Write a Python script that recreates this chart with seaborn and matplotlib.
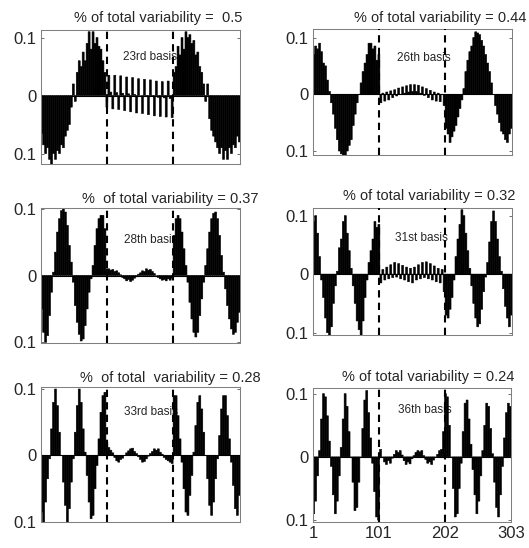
import matplotlib
matplotlib.use("Agg")
import matplotlib.pyplot as plt
import seaborn as sns
import numpy as np
import pandas as pd

# sample positions: one bar per group of 3 observations (1..303)
samples = np.arange(2, 303, 3)

basis23 = [-0.065, -0.085, -0.1, -0.09, -0.11, -0.118, -0.1, -0.11, -0.095, -0.1, -0.085, -0.09, -0.07, -0.06,
           -0.05, -0.02, 0.02, -0.01, 0.04, 0.06, 0.05, 0.075, 0.06, 0.09, 0.11, 0.08, 0.11, 0.09, 0.1, 0.085,
           0.08, 0.06, 0.04, -0.02,
           0.035, 0.006, -0.023, 0.035, 0.005, -0.024, 0.034, 0.004, -0.026, 0.032, 0.003, -0.028, 0.031, 0.002,
           -0.03, 0.029, 0.0, -0.031, 0.028, -0.001, -0.033, 0.027, -0.002, -0.035, 0.025, -0.003, -0.036, 0.024,
           -0.004, -0.037, 0.025, -0.005, -0.038,
           0.04, 0.05, 0.085, 0.07, 0.1, 0.08, 0.11, 0.1, 0.105, 0.09, 0.095, 0.07, 0.075, 0.05, 0.04, 0.02,
           -0.01, 0.02, -0.04, -0.06, -0.07, -0.08, -0.09, -0.1, -0.09, -0.11, -0.095, -0.11, -0.09, -0.1,
           -0.085, -0.09, -0.07, -0.08]

basis26 = [0.07, 0.085, 0.08, 0.09, 0.075, 0.055, 0.05, 0.025, 0.005, -0.015, -0.035, -0.06, -0.08, -0.1,
           -0.105, -0.11, -0.12, -0.1, -0.09, -0.08, -0.055, -0.035, -0.015, 0.0, 0.02, 0.04, 0.055, 0.07, 0.09,
           0.09, 0.08, 0.085, 0.06, 0.07,
           -0.015, 0.002, -0.012, 0.004, -0.01, 0.006, -0.006, 0.008, -0.003, 0.011, 0.0, 0.013, 0.002, 0.015,
           0.004, 0.017, 0.005, 0.017, 0.005, 0.016, 0.002, 0.013, -0.002, 0.01, -0.006, 0.007, -0.01, 0.004,
           -0.012, 0.002, -0.013, 0.0, -0.02,
           -0.06, -0.07, -0.085, -0.075, -0.065, -0.055, -0.04, -0.025, -0.01, 0.01, 0.04, 0.06, 0.075, 0.085,
           0.1, 0.11, 0.108, 0.105, 0.095, 0.085, 0.07, 0.055, 0.04, 0.02, 0.0, -0.02, -0.035, -0.05, -0.065,
           -0.07, -0.08, -0.085, -0.07, -0.06]

basis28 = [-0.05, -0.085, -0.1, -0.09, -0.06, -0.025, 0.005, 0.035, 0.065, 0.085, 0.097, 0.1, 0.095, 0.075,
           0.045, 0.02, -0.01, -0.045, -0.07, -0.088, -0.098, -0.095, -0.075, -0.05, -0.025, -0.005, 0.015,
           0.045, 0.07, 0.085, 0.09, 0.09, 0.07, 0.01,
           0.01, 0.008, 0.009, 0.006, 0.007, 0.004, 0.001, -0.003, -0.005, -0.008, -0.006, -0.009, -0.007,
           -0.004, -0.002, 0.002, 0.004, 0.007, 0.006, 0.01, 0.008, 0.009, 0.006, 0.003, 0.0, -0.003, -0.005,
           -0.007, -0.006, -0.008, -0.005, -0.007, -0.004,
           0.06, 0.085, 0.09, 0.085, 0.065, 0.04, 0.015, -0.01, -0.04, -0.065, -0.085, -0.092, -0.085, -0.06,
           -0.035, -0.01, 0.015, 0.04, 0.065, 0.085, 0.093, 0.095, 0.085, 0.06, 0.03, 0.005, -0.02, -0.045,
           -0.065, -0.08, -0.088, -0.085, -0.07, -0.055]

basis31 = [0.09, 0.1, 0.07, 0.03, -0.01, -0.04, -0.075, -0.1, -0.105, -0.09, -0.05, -0.02, 0.005, 0.045, 0.06,
           0.09, 0.1, 0.07, 0.04, 0.01, -0.02, -0.05, -0.08, -0.095, -0.11, -0.08, -0.04, -0.01, 0.02, 0.04,
           0.06, 0.09, 0.08, 0.085,
           -0.015, 0.008, -0.01, 0.012, -0.008, 0.016, -0.006, 0.02, -0.005, 0.018, -0.008, 0.015, -0.01, 0.012,
           -0.013, 0.01, -0.015, 0.012, -0.01, 0.016, -0.008, 0.02, -0.006, 0.021, -0.008, 0.018, -0.01, 0.014,
           -0.013, 0.01, -0.015, 0.008, -0.03,
           -0.07, -0.075, -0.06, -0.04, -0.01, 0.03, 0.06, 0.085, 0.11, 0.1, 0.07, 0.04, 0.01, -0.02, -0.05,
           -0.075, -0.09, -0.085, -0.06, -0.03, -0.005, 0.02, 0.055, 0.09, 0.108, 0.09, 0.06, 0.03, 0.005,
           -0.025, -0.055, -0.075, -0.09, -0.07]

basis33 = [-0.085, -0.1, -0.07, -0.035, -0.005, 0.04, 0.08, 0.1, 0.075, 0.035, 0.0, -0.04, -0.075, -0.1, -0.08,
           -0.04, -0.005, 0.035, 0.075, 0.1, 0.08, 0.04, 0.005, -0.03, -0.07, -0.095, -0.09, -0.05, -0.015,
           0.025, 0.065, 0.09, 0.095, 0.02,
           0.012, 0.008, 0.004, -0.003, -0.008, -0.01, -0.006, -0.004, 0.0, 0.004, 0.007, 0.01, 0.011, 0.006,
           0.003, -0.002, -0.006, -0.01, -0.009, -0.005, -0.001, 0.003, 0.006, 0.01, 0.008, 0.01, 0.005, 0.002,
           -0.003, -0.006, -0.008, -0.01, -0.012,
           0.09, 0.09, 0.06, 0.025, -0.01, -0.05, -0.085, -0.09, -0.06, -0.03, 0.005, 0.045, 0.08, 0.09, 0.07,
           0.035, 0.0, -0.035, -0.075, -0.09, -0.07, -0.035, -0.005, 0.03, 0.07, 0.09, 0.09, 0.06, 0.025,
           -0.01, -0.045, -0.08, -0.09, -0.06]

basis36 = [-0.09, -0.07, -0.03, 0.01, 0.06, 0.1, 0.095, 0.065, 0.025, -0.015, -0.06, -0.09, -0.07, -0.03,
           0.015, 0.06, 0.1, 0.08, 0.04, 0.0, -0.04, -0.085, -0.08, -0.04, 0.0, 0.045, 0.09, 0.105, 0.07, 0.03,
           -0.01, -0.055, -0.095, -0.1,
           0.012, 0.0, -0.008, -0.012, -0.006, -0.01, -0.002, 0.004, 0.01, 0.007, 0.01, 0.003, -0.006, -0.012,
           -0.008, -0.011, -0.003, 0.002, 0.007, 0.01, 0.008, 0.01, 0.002, -0.004, -0.01, -0.008, -0.012,
           -0.005, 0.0, 0.004, 0.01, 0.012, 0.04,
           0.1, 0.095, 0.05, 0.0, -0.05, -0.095, -0.09, -0.05, -0.01, 0.04, 0.085, 0.09, 0.06, 0.02, -0.02,
           -0.06, -0.09, -0.07, -0.03, 0.01, 0.05, 0.085, 0.08, 0.045, 0.005, -0.04, -0.08, -0.095, -0.06,
           -0.015, 0.03, 0.07, 0.085, 0.08]

titles = ["% of total variability =  0.5", "% of total variability = 0.44",
          "%  of total variability = 0.37", "% of total variability = 0.32",
          "%  of total  variability = 0.28", "% of total variability = 0.24"]
basis_names = ["23rd basis", "26th basis", "28th basis", "31st basis", "33rd basis", "36th basis"]
series = [basis23, basis26, basis28, basis31, basis33, basis36]
segment_breaks = [101, 202]
x_ticks = [1, 101, 202, 303]

sns.set_theme(style="white")
plt.rcParams['font.family'] = ['Liberation Sans', 'DejaVu Sans']

W, H = 529, 548
fig = plt.figure(figsize=(W / 100, H / 100), dpi=100)

# axes boxes in pixels: left, top, right, bottom
boxes = [(41, 30, 240, 164), (313, 29, 512, 155),
         (41, 208, 240, 343), (313, 208, 512, 335),
         (41, 387, 240, 522), (313, 388, 511, 522)]
ylims = [(-0.118, 0.113), (-0.107, 0.115),
         (-0.101, 0.101), (-0.104, 0.113),
         (-0.1, 0.103), (-0.103, 0.109)]
title_pos = [(158, 18), (440, 18), (170, 199), (429, 196), (170, 378), (428, 377)]
label_pos = [(123, 57), (397, 58), (124, 240), (395, 238), (124, 412), (398, 410)]

for i, (vals, box) in enumerate(zip(series, boxes)):
    l, t, r, b = box
    ax = fig.add_axes([l / W, 1 - b / H, (r - l) / W, (b - t) / H])
    df = pd.DataFrame({"sample": samples, "value": vals})
    sns.barplot(data=df, x="sample", y="value", native_scale=True, color="black",
                saturation=1, width=1.0, linewidth=0.4, edgecolor="black",
                errorbar=None, ax=ax, zorder=2, snap=False)
    ax.axhline(0, color="black", lw=0.8, zorder=2)
    for xb in segment_breaks:
        ax.axvline(xb, color="black", lw=1.5, ls=(0, (3.5, 2.5)), zorder=3)
    ax.set_xlim(1, 303)
    ax.set_ylim(*ylims[i])
    ax.set_xlabel("")
    ax.set_ylabel("")
    ax.set_yticks([-0.1, 0, 0.1])
    ax.set_yticklabels(["0.1", "0", "0.1"], fontsize=12)
    if i == 5:
        ax.set_xticks(x_ticks)
        ax.set_xticklabels([str(v) for v in x_ticks], fontsize=12)
    else:
        ax.set_xticks([])
    ax.tick_params(direction="in", length=2.5, width=0.6, color="#555555",
                   left=True, right=True, bottom=(i == 5), pad=3)
    for sp in ax.spines.values():
        sp.set_color("#808080")
        sp.set_linewidth(0.75)
    ax.grid(False)

    tx, ty = title_pos[i]
    fig.text(tx / W, 1 - ty / H, titles[i], ha="center", va="center", fontsize=10.5)
    lx, ly = label_pos[i]
    ax.text((lx - l) / (r - l), (b - ly) / (b - t), basis_names[i], transform=ax.transAxes,
            ha="left", va="center", fontsize=8.5, zorder=1)

fig.savefig("out.png", dpi=100)
